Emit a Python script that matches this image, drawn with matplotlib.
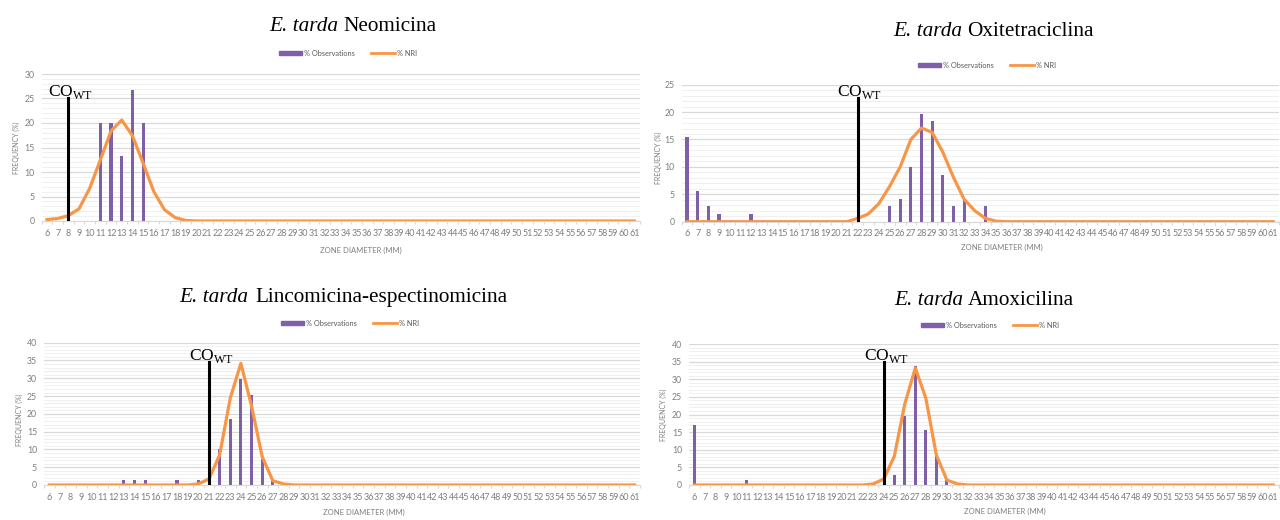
import numpy as np
import matplotlib
matplotlib.use("Agg")
import matplotlib.pyplot as plt
from matplotlib.patches import Patch
from matplotlib.lines import Line2D
from matplotlib.ticker import MultipleLocator, FixedLocator

plt.rcParams['font.family'] = ['Lato', 'DejaVu Sans']
plt.rcParams['mathtext.fontset'] = 'custom'
plt.rcParams['mathtext.rm'] = 'Liberation Serif'

W, H = 1280, 520
PURPLE = '#7F60A8'
ORANGE = '#F79646'
GREY = '#7F7F7F'

# === DATA (zone diameter in mm, % of isolates) ===
diam = np.arange(6, 62)

neo_obs_x = [11, 12, 13, 14, 15]
neo_obs_y = [20.0, 20.0, 13.3, 26.7, 20.0]
neo_nri_x = [6, 7, 8, 9, 10, 11, 12, 13, 14, 15, 16, 17, 18, 19]
neo_nri_y = [0.3, 0.5, 1.1, 2.5, 6.7, 12.5, 18.4, 20.6, 17.4, 11.8, 6.0, 2.3, 0.7, 0.1]

oxi_obs_x = [6, 7, 8, 9, 12, 25, 26, 27, 28, 29, 30, 31, 32, 34]
oxi_obs_y = [15.5, 5.6, 2.8, 1.4, 1.4, 2.8, 4.2, 9.9, 19.7, 18.3, 8.5, 2.8, 4.2, 2.8]
oxi_nri_x = [21, 22, 23, 24, 25, 26, 27, 28, 29, 30, 31, 32, 33, 34, 35]
oxi_nri_y = [0.0, 0.6, 1.4, 3.3, 6.4, 10.0, 15.0, 17.1, 16.3, 12.7, 8.1, 4.1, 2.0, 0.6, 0.1]

lin_obs_x = [13, 14, 15, 18, 20, 22, 23, 24, 25, 26, 27]
lin_obs_y = [1.35, 1.35, 1.35, 1.35, 1.35, 10.0, 18.5, 29.7, 25.3, 7.2, 1.3]
lin_nri_x = [19, 20, 21, 22, 23, 24, 25, 26, 27, 28, 29]
lin_nri_y = [0.0, 0.3, 1.7, 8.4, 24.4, 34.2, 22.2, 8.0, 1.2, 0.3, 0.0]

amo_obs_x = [6, 11, 25, 26, 27, 28, 29, 30]
amo_obs_y = [16.9, 1.4, 2.8, 19.7, 33.8, 15.5, 8.3, 1.4]
amo_nri_x = [22, 23, 24, 25, 26, 27, 28, 29, 30, 31, 32]
amo_nri_y = [0.0, 0.3, 1.7, 8.1, 23.0, 33.2, 24.6, 8.5, 1.4, 0.3, 0.0]

titles = ['Neomicina', 'Oxitetraciclina', 'Lincomicina-espectinomicina', 'Amoxicilina']
co_wt = [8, 22, 21, 24]
co_top = [25, 22.5, 34.6, 35]
ymax = [30, 25, 40, 40]

fig = plt.figure(figsize=(W / 100, H / 100), dpi=100)


def px(x, y):
    return x / W, 1 - y / H


def panel(box, ymax, obs_x, obs_y, nri_x, nri_y, co, top):
    left, right, ytop, ybot = box
    ax = fig.add_axes([left / W, 1 - ybot / H, (right - left) / W, (ybot - ytop) / H])
    nri = np.zeros(len(diam))
    nri[np.searchsorted(diam, nri_x)] = nri_y
    ax.bar(obs_x, obs_y, width=0.3, color=PURPLE, zorder=2)
    ax.plot(diam, nri, color=ORANGE, lw=2.3, zorder=3, solid_joinstyle='round')
    ax.plot([co, co], [0, top], color='black', lw=2.2, zorder=4)
    ax.annotate(r'CO$_{\mathrm{WT}}$', (co, top), xytext=(-14.5, 1.5), textcoords='offset points',
                ha='left', va='baseline', fontsize=12.5, family='Liberation Serif', zorder=5,
                annotation_clip=False)
    ax.set_xlim(5.5, 61.5)
    ax.set_ylim(0, ymax)
    ax.yaxis.set_major_locator(MultipleLocator(5))
    ax.yaxis.set_minor_locator(MultipleLocator(1))
    ax.grid(axis='y', which='major', color='#D9D9D9', lw=0.9, zorder=0)
    ax.grid(axis='y', which='minor', color='#F0F0F0', lw=0.7, zorder=0)
    ax.set_axisbelow(True)
    ax.xaxis.set_major_locator(FixedLocator(diam))
    ax.set_xticklabels([str(d) for d in diam])
    ax.xaxis.set_minor_locator(FixedLocator(np.arange(5.5, 62, 1)))
    ax.tick_params(axis='x', which='major', length=0, pad=5.5, labelsize=6.5, labelcolor=GREY)
    ax.tick_params(axis='x', which='minor', length=2.5, color='#D9D9D9', width=0.8)
    ax.tick_params(axis='y', which='both', length=0, pad=5, labelsize=6.3, labelcolor=GREY)
    for s in ['top', 'right', 'left']:
        ax.spines[s].set_visible(False)
    ax.spines['bottom'].set_color('#D9D9D9')
    return ax


boxes = [(41.7, 639.6, 74, 221), (681.7, 1278.5, 84.7, 221.7),
         (44, 640, 342.7, 485), (689, 1278.5, 344, 485)]
data = [(neo_obs_x, neo_obs_y, neo_nri_x, neo_nri_y),
        (oxi_obs_x, oxi_obs_y, oxi_nri_x, oxi_nri_y),
        (lin_obs_x, lin_obs_y, lin_nri_x, lin_nri_y),
        (amo_obs_x, amo_obs_y, amo_nri_x, amo_nri_y)]

for i in range(4):
    panel(boxes[i], ymax[i], *data[i], co_wt[i], co_top[i])

# === TITLES (italic species + drug name) ===
title_pos = [(338, 343, 31), (962, 967, 36), (248, 255, 302), (963, 968, 305)]
for (xi, xr, yb), name in zip(title_pos, titles):
    fig.text(*px(xi, yb), 'E. tarda', family='Liberation Serif', style='italic',
             fontsize=15.3, ha='right', va='baseline')
    fig.text(*px(xr, yb), name, family='Liberation Serif',
             fontsize=15.3, ha='left', va='baseline')

# === LEGENDS ===
legend_pos = [(348, 53), (987, 65), (350, 323), (990, 325)]
handles = [Patch(color=PURPLE), Line2D([], [], color=ORANGE, lw=2)]
for cx, cy in legend_pos:
    fig.legend(handles, ['% Observations', '% NRI'], loc='center', bbox_to_anchor=px(cx, cy),
               ncol=2, frameon=False, fontsize=5.3, labelcolor='#595959',
               handlelength=3.2, handleheight=0.6, handletextpad=0.3, columnspacing=2.2)

# === AXIS TITLES ===
ylab_pos = [(16, 148), (658, 158), (19, 420), (663, 415)]
for x, y in ylab_pos:
    fig.text(*px(x, y), 'FREQUENCY (%)', rotation=90, fontsize=5, color=GREY,
             ha='center', va='center')
xlab_pos = [(361, 250), (1002, 247), (364, 512), (1005, 511)]
for x, y in xlab_pos:
    fig.text(*px(x, y), 'ZONE DIAMETER (MM)', fontsize=5.5, color=GREY,
             ha='center', va='center')

fig.savefig('out.png', dpi=100)
